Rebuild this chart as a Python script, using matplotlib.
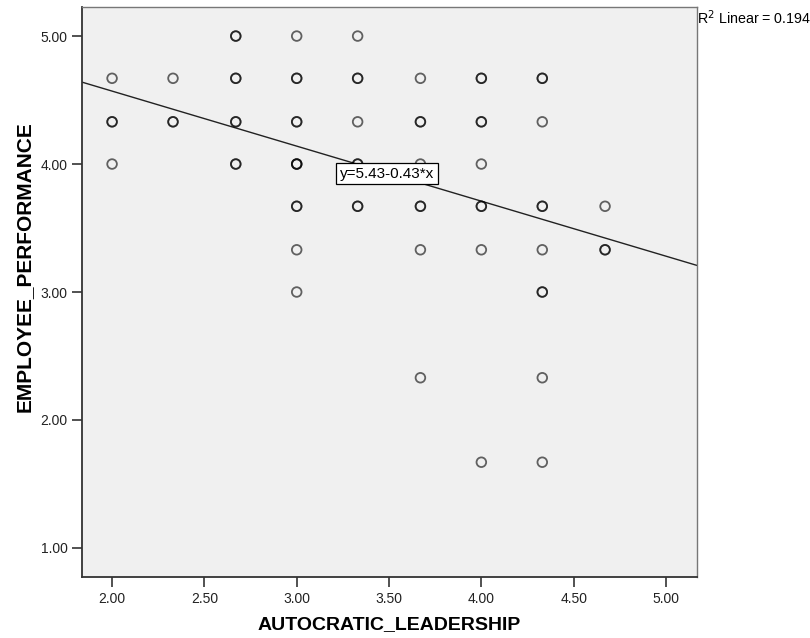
import numpy as np
import matplotlib.pyplot as plt

plt.rcParams["font.family"] = ["Liberation Sans", "DejaVu Sans"]

# leadership score, performance score, number of respondents at that spot
lead = [2.00, 2.00, 2.00,
        2.33, 2.33,
        2.67, 2.67, 2.67, 2.67,
        3.00, 3.00, 3.00, 3.00, 3.00, 3.00, 3.00,
        3.33, 3.33, 3.33, 3.33, 3.33,
        3.67, 3.67, 3.67, 3.67, 3.67, 3.67,
        4.00, 4.00, 4.00, 4.00, 4.00, 4.00,
        4.33, 4.33, 4.33, 4.33, 4.33, 4.33, 4.33,
        4.67, 4.67]
perf = [4.67, 4.33, 4.00,
        4.67, 4.33,
        5.00, 4.67, 4.33, 4.00,
        5.00, 4.67, 4.33, 4.00, 3.67, 3.33, 3.00,
        5.00, 4.67, 4.33, 4.00, 3.67,
        4.67, 4.33, 4.00, 3.67, 3.33, 2.33,
        4.67, 4.33, 4.00, 3.67, 3.33, 1.67,
        4.67, 4.33, 3.67, 3.33, 3.00, 2.33, 1.67,
        3.67, 3.33]
count = [1, 2, 1,
         1, 2,
         2, 2, 2, 2,
         1, 2, 2, 3, 2, 1, 1,
         1, 2, 1, 2, 2,
         1, 2, 1, 2, 1, 1,
         2, 2, 1, 2, 1, 1,
         2, 1, 2, 1, 2, 1, 1,
         1, 2]

intercept, slope = 5.43, -0.43
r2 = 0.194

x_ticks = [2.00, 2.50, 3.00, 3.50, 4.00, 4.50, 5.00]
y_ticks = [1.00, 2.00, 3.00, 4.00, 5.00]

xs = np.repeat(lead, count)
ys = np.repeat(perf, count)

fig = plt.figure(figsize=(8.1, 6.38), dpi=100)
ax = fig.add_axes([0.1012, 0.0956, 0.7593, 0.8934])
ax.set_facecolor("#f0f0f0")

ax.scatter(xs, ys, s=48, facecolors="none", edgecolors="black",
           linewidths=1.3, alpha=0.6, zorder=3)

xlim = (1.837, 5.168)
ax.set_xlim(xlim)
ax.set_ylim(0.773, 5.227)

# fit line across the full x range
lx = np.array(xlim)
ax.plot(lx, intercept + slope * lx, color="#222222", linewidth=1.0, zorder=2)

ax.text(3.232, 3.925, f"y={intercept:.2f}{slope:.2f}*x", fontsize=11,
        ha="left", va="center", zorder=5,
        bbox=dict(boxstyle="square,pad=0.25", facecolor="white",
                  edgecolor="black", linewidth=0.9))

fig.text(0.861, 0.973, "R$^2$ Linear = " + f"{r2:.3f}", fontsize=10.3,
         ha="left", va="center")

ax.set_xticks(x_ticks)
ax.set_xticklabels([f"{v:.2f}" for v in x_ticks])
ax.set_yticks(y_ticks)
ax.set_yticklabels([f"{v:.2f}" for v in y_ticks])
ax.tick_params(direction="out", length=7, width=1.2, color="#333333",
               labelsize=10, labelcolor="#222222")

for side in ["left", "bottom"]:
    ax.spines[side].set_color("#333333")
    ax.spines[side].set_linewidth(1.3)
for side in ["top", "right"]:
    ax.spines[side].set_color("#777777")
    ax.spines[side].set_linewidth(1.0)

ax.set_xlabel("AUTOCRATIC_LEADERSHIP", fontsize=14, fontweight="bold")
ax.set_ylabel("EMPLOYEE_PERFORMANCE", fontsize=15, fontweight="bold")
ax.xaxis.set_label_coords(0.5, -0.068)
ax.yaxis.set_label_coords(-0.078, 0.544)

fig.savefig("out.png", dpi=100)
